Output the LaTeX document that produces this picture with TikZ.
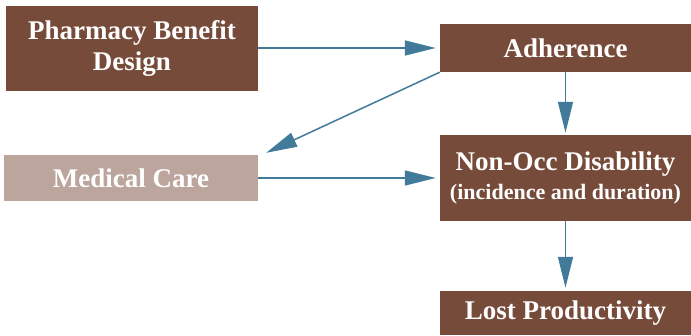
\documentclass[tikz,border=0pt]{standalone}
\usepackage{fontspec}
\setmainfont{Liberation Serif}
\usetikzlibrary{arrows.meta}
\definecolor{brown}{HTML}{774B3A}
\definecolor{tan}{HTML}{BBA59C}
\definecolor{arrowblue}{HTML}{427A9A}
\begin{document}
\begin{tikzpicture}[x=1pt, y=-1pt, line join=round,
		box/.style={fill=brown, text=white, inner sep=0pt, align=center, font=\bfseries\fontsize{27}{31}\selectfont},
		link/.style={draw=arrowblue, line width=1.5pt, -{Triangle[length=31pt,width=15pt]}, shorten >=4pt}]
			\useasboundingbox (0,0) rectangle (691,335);
			\node[box, minimum width=252pt, minimum height=85pt] (pbd) at (132,48.5) {Pharmacy Benefit\\Design};
			\node[box, minimum width=251pt, minimum height=48pt] (adh) at (565.5,48) {Adherence};
			\node[box, fill=tan, minimum width=254pt, minimum height=46pt] (mc) at (131,178) {Medical Care};
			\node[box, minimum width=251pt, minimum height=86pt] (noc) at (565.5,178) {Non-Occ Disability\\[-2pt]{\fontsize{22}{26}\selectfont(incidence and duration)}};
			\node[box, minimum width=251pt, minimum height=44pt] (lost) at (565.5,313) {Lost Productivity};
			\draw[link] (pbd.east |- adh.west) -- (adh.west);
			\draw[link, shorten >=0pt] (adh.south west) -- ([xshift=8pt,yshift=2pt]mc.north east);
			\draw[link] (mc.east) -- (mc.east -| noc.west);
			\draw[link, shorten >=2pt] (adh.south) -- (noc.north);
			\draw[link, shorten >=3pt] (noc.south) -- (lost.north);
	\end{tikzpicture}
\end{document}
